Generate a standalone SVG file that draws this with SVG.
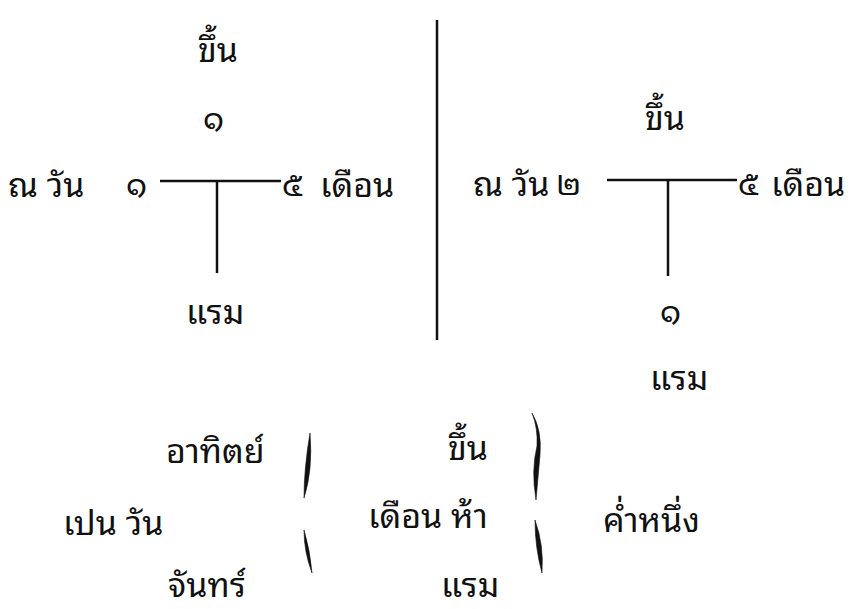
<svg xmlns="http://www.w3.org/2000/svg" width="860" height="609" viewBox="0 0 860 609">
<style>
text{font-family:"Noto Sans Thai Looped","Noto Serif Thai","Noto Sans Thai","Noto Sans","DejaVu Sans",sans-serif;font-size:34px;fill:#111}
.d{font-size:32px}
.ln{stroke:#111;stroke-width:2.5;fill:none}
.br{fill:#111;stroke:#111;stroke-width:0.6}
</style>
<rect width="860" height="609" fill="#fff"/>
<g id="connectors">
<line class="ln" x1="160" y1="181" x2="281" y2="181"/>
<line class="ln" x1="217" y1="181" x2="217" y2="273"/>
<line class="ln" x1="437" y1="20" x2="437" y2="340"/>
<line class="ln" x1="607" y1="180" x2="737" y2="180"/>
<line class="ln" x1="668" y1="180" x2="668" y2="276"/>
<path class="br" d="M310 433 Q313 470 304 498 Q304 468 310 433 Z"/>
<path class="br" d="M304 530 Q310 550 312 573 Q304 552 304 530 Z"/>
<path class="br" d="M532 413 Q542 430 540 455 L536 500 Q531 470 537 446 Q538 428 532 413 Z"/>
<path class="br" d="M535 520 Q544 545 542 573 Q535 548 535 520 Z"/>
</g>
<g id="left-khuen"><text x="198" y="62">ขึ้น</text></g>
<g id="left-day"><text class="d" x="203" y="130">๑</text></g>
<g id="left-weekday"><text x="8" y="197">ณ วัน</text><text class="d" x="126" y="196">๑</text></g>
<g id="left-month"><text class="d" x="282" y="196">๕</text><text x="320" y="197">เดือน</text></g>
<g id="left-raem"><text x="186" y="324">แรม</text></g>
<g id="right-khuen"><text x="645" y="130">ขึ้น</text></g>
<g id="right-weekday"><text x="473" y="196">ณ วัน</text><text class="d" x="556" y="195">๒</text></g>
<g id="right-month"><text class="d" x="738" y="195">๕</text><text x="771" y="196">เดือน</text></g>
<g id="right-day"><text class="d" x="660" y="323">๑</text></g>
<g id="right-raem"><text x="650" y="390">แรม</text></g>
<g id="sunday"><text x="166" y="463">อาทิตย์</text></g>
<g id="pen-wan"><text x="63" y="535">เปน วัน</text></g>
<g id="monday"><text x="168" y="597">จันทร์</text></g>
<g id="mid-khuen"><text x="448" y="460">ขึ้น</text></g>
<g id="duean-ha"><text x="368" y="528">เดือน ห้า</text></g>
<g id="mid-raem"><text x="441" y="597">แรม</text></g>
<g id="kham-nueng"><text x="603" y="532">ค่ำหนึ่ง</text></g>
</svg>
